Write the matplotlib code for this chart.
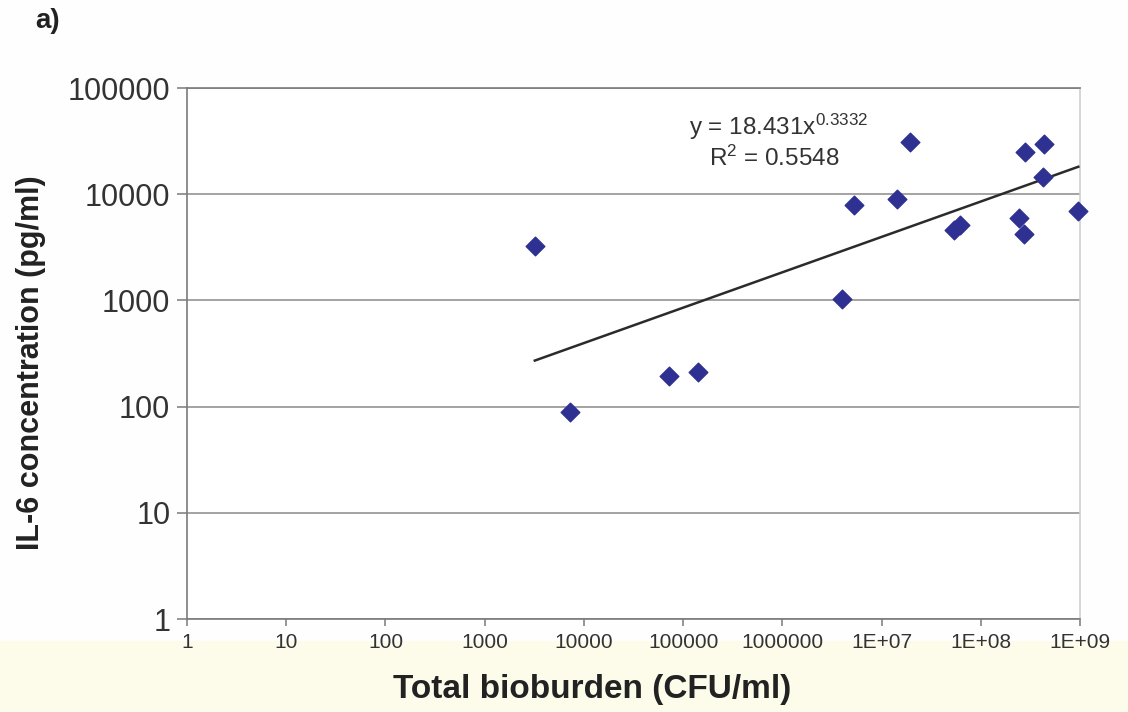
import numpy as np
import matplotlib
matplotlib.use("Agg")
import matplotlib.pyplot as plt
from matplotlib.patches import Rectangle
from matplotlib.ticker import FixedLocator, FixedFormatter, NullLocator

# ---- data ----
bioburden = [3200, 7300, 72000, 141000, 4.0e6, 5.3e6, 1.44e7, 1.95e7,
             5.4e7, 6.2e7, 2.4e8, 2.74e8, 2.8e8, 4.2e8, 4.3e8, 9.6e8]
il6 = [3250, 89, 195, 212, 1030, 7900, 9000, 31000,
       4600, 5100, 6000, 4200, 25000, 14500, 29700, 6930]

fit_coef = 18.431
fit_exp = 0.3332
r_squared = 0.5548

x_ticks = [1, 10, 100, 1000, 10000, 100000, 1000000, 1e7, 1e8, 1e9]
x_tick_labels = ["1", "10", "100", "1000", "10000", "100000", "1000000",
                 "1E+07", "1E+08", "1E+09"]
y_ticks = [1, 10, 100, 1000, 10000, 100000]
y_tick_labels = ["1", "10", "100", "1000", "10000", "100000"]

plt.rcParams['font.family'] = ['Liberation Sans', 'DejaVu Sans']
plt.rcParams['mathtext.fontset'] = 'custom'
plt.rcParams['mathtext.rm'] = 'Liberation Sans'
plt.rcParams['mathtext.it'] = 'Liberation Sans'

fig = plt.figure(figsize=(11.28, 7.12), dpi=100)
fig.patch.set_facecolor('#fefefe')
# faint yellowish strip of the scanned page at the bottom
fig.patches.append(Rectangle((0, 0), 1, 0.1, transform=fig.transFigure,
                             facecolor='#fdfbea', edgecolor='none', zorder=-5))

ax = fig.add_axes([0.1658, 0.1306, 0.7917, 0.7458])
ax.set_facecolor('white')
ax.set_xscale('log')
ax.set_yscale('log')
ax.set_xlim(1, 1e9)
ax.set_ylim(1, 1e5)

ax.xaxis.set_major_locator(FixedLocator(x_ticks))
ax.xaxis.set_major_formatter(FixedFormatter(x_tick_labels))
ax.xaxis.set_minor_locator(NullLocator())
ax.yaxis.set_major_locator(FixedLocator(y_ticks))
ax.yaxis.set_major_formatter(FixedFormatter(y_tick_labels))
ax.yaxis.set_minor_locator(NullLocator())

ax.grid(axis='y', color='#8a8a8a', linewidth=1.1, zorder=1)
for side in ['left', 'bottom', 'top', 'right']:
    ax.spines[side].set_color('#7a7a7a')
    ax.spines[side].set_linewidth(1.2)
ax.spines['right'].set_color('#cfcfcf')

ax.tick_params(axis='y', direction='out', length=7, width=1.1, color='#7a7a7a',
               labelsize=22, labelcolor='#333333', pad=5)
ax.tick_params(axis='x', direction='out', length=5, width=1.1, color='#7a7a7a',
               labelsize=15, labelcolor='#333333', pad=5)

# trend line from the fitted power law shown on the chart
xs = np.logspace(np.log10(min(bioburden)), np.log10(max(bioburden)), 50)
ax.plot(xs, fit_coef * xs ** fit_exp, color='#2b2b2b', linewidth=1.8, zorder=3)

ax.scatter(bioburden, il6, marker='D', s=90, color='#2e3192',
           edgecolors='#2e3192', zorder=4, clip_on=False)

ax.text(0.662, 0.927, r'y = 18.431x$^{0.3332}$', transform=ax.transAxes,
        ha='center', va='center', fontsize=17.5, color='#333333')
ax.text(0.658, 0.868, r'R$^{2}$ = 0.5548', transform=ax.transAxes,
        ha='center', va='center', fontsize=17.5, color='#333333')

fig.text(0.0275, 0.49, 'IL-6 concentration (pg/ml)', rotation=90,
         ha='center', va='center', fontsize=22, fontweight='bold', color='#222222')
fig.text(0.525, 0.031, 'Total bioburden (CFU/ml)', ha='center', va='center',
         fontsize=24, fontweight='bold', color='#222222')
fig.text(0.042, 0.97, 'a)', ha='center', va='center', fontsize=20,
         fontweight='bold', color='#222222')

fig.savefig('out.png', dpi=100, facecolor=fig.get_facecolor())
